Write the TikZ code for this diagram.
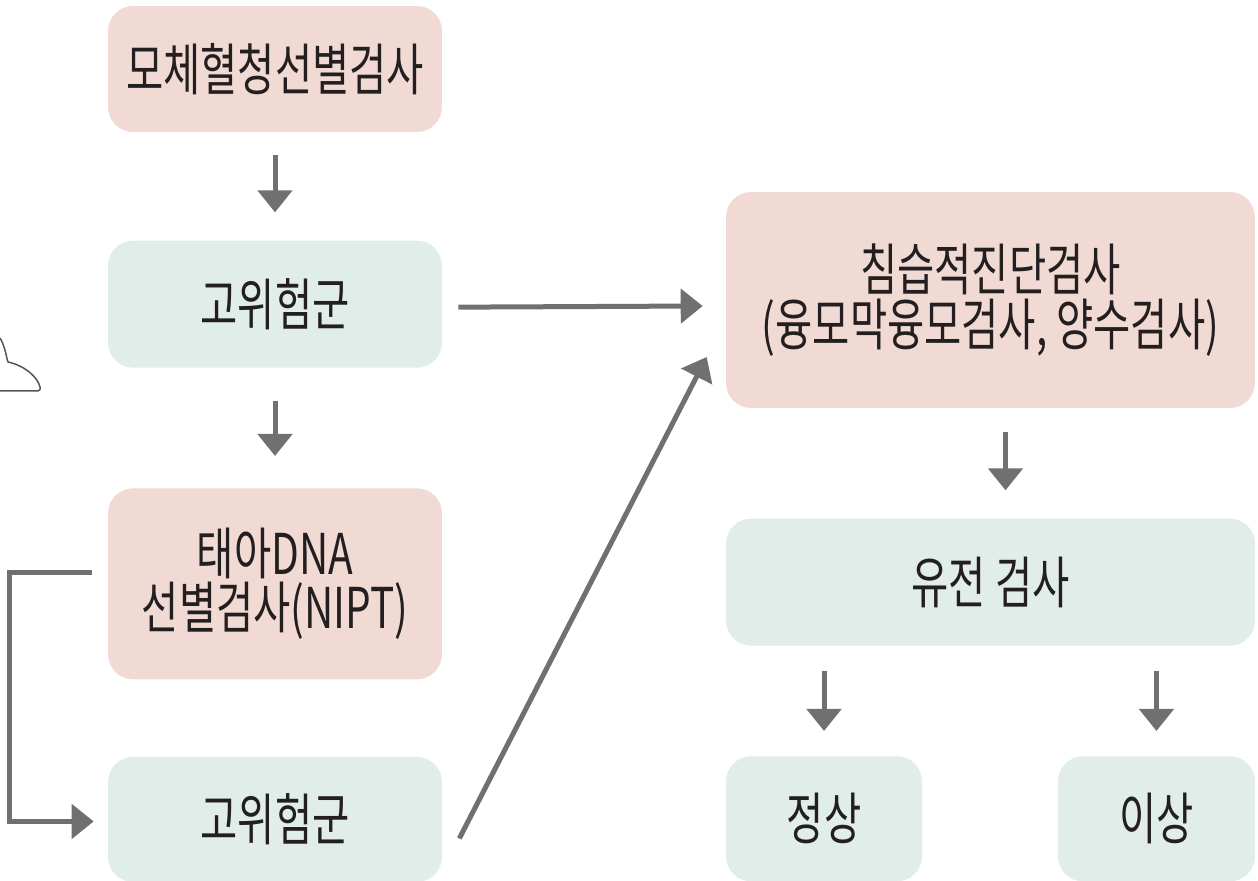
\documentclass[tikz,border=0pt]{standalone}
\usepackage{fontspec}
\usepackage{xcolor}
\usetikzlibrary{arrows.meta, positioning, calc}
\newfontfamily\krfont{Noto Sans CJK KR}[FakeStretch=0.72]
\definecolor{testPink}{RGB}{241, 217, 212}
\definecolor{testMint}{RGB}{225, 237, 233}
\definecolor{arrowGray}{RGB}{112, 112, 112}
\definecolor{textDark}{RGB}{35, 31, 32}
\definecolor{sketchGray}{RGB}{85, 85, 85}
\tikzset{
  pinkbox/.style={fill=testPink, text=textDark, rounded corners=0.5cm, align=center, inner sep=0pt, font=\krfont\fontsize{32pt}{31pt}\selectfont},
  mintbox/.style={pinkbox, fill=testMint},
  flow/.style={-{Triangle[width=0.68cm, length=0.44cm]}, line width=0.1cm, arrowGray},
}

\begin{document}
\begin{tikzpicture}[x=0.02cm, y=-0.02cm]
            \useasboundingbox (0,0) rectangle (1258,881);
            % Nodes, left column
            \node[pinkbox, minimum width=6.68cm, minimum height=2.52cm] (serum) at (275,69) {모체혈청선별검사};
            \node[mintbox, minimum width=6.68cm, minimum height=2.54cm, below=2.16cm of serum] (risk1) {고위험군};
            \node[pinkbox, minimum width=6.68cm, minimum height=3.82cm, below=2.4cm of risk1] (nipt) {태아DNA\\선별검사(NIPT)};
            \node[mintbox, minimum width=6.68cm, minimum height=2.5cm, below=1.54cm of nipt] (risk2) {고위험군};

            % Nodes, right column
            \node[pinkbox, minimum width=10.58cm, minimum height=4.32cm] (invasive) at (990.5,300) {침습적진단검사\\(융모막융모검사, 양수검사)};
            \node[mintbox, minimum width=10.58cm, minimum height=2.54cm, below=2.2cm of invasive] (genetic) {유전 검사};
            \node[mintbox, minimum width=3.92cm, minimum height=2.5cm, below right=2.2cm and 0cm of genetic.south west] (normal) {정상};
            \node[mintbox, minimum width=3.94cm, minimum height=2.5cm, below left=2.2cm and 0cm of genetic.south east] (abnormal) {이상};

            % Arrows
            \draw[flow, shorten <=0.46cm, shorten >=0.56cm] (serum) -- (risk1);
            \draw[flow, shorten <=0.66cm, shorten >=0.64cm] (risk1) -- (nipt);
            \draw[flow] ($(risk1.east)+(16,3)$) -- ($(invasive.west)+(-23,6)$);
            \draw[flow] ($(risk2.east)+(17,19)$) -- ($(invasive.west)+(-19,57)$);
            \draw[flow] ($(nipt.west)+(-16,-11)$) -- ++(-82,0) |- ($(risk2.west)+(-14,2)$);
            \draw[flow, shorten <=0.48cm, shorten >=0.56cm] ([xshift=0.3cm]invasive.south) -- ([xshift=0.3cm]genetic.north);
            \draw[flow, shorten <=0.5cm, shorten >=0.5cm] (genetic.south -| normal) -- (normal);
            \draw[flow, shorten <=0.5cm, shorten >=0.5cm] (genetic.south -| abnormal) -- (abnormal);

            % Sketch cut off at the left edge
            \draw[sketchGray, line width=0.03cm, line join=round] (0,338) .. controls (5,346) and (6,356) .. (8,362) .. controls (26,366) and (38,378) .. (40,387) .. controls (41,390) and (39,391) .. (36,391) -- (0,391);
        \end{tikzpicture}
\end{document}
